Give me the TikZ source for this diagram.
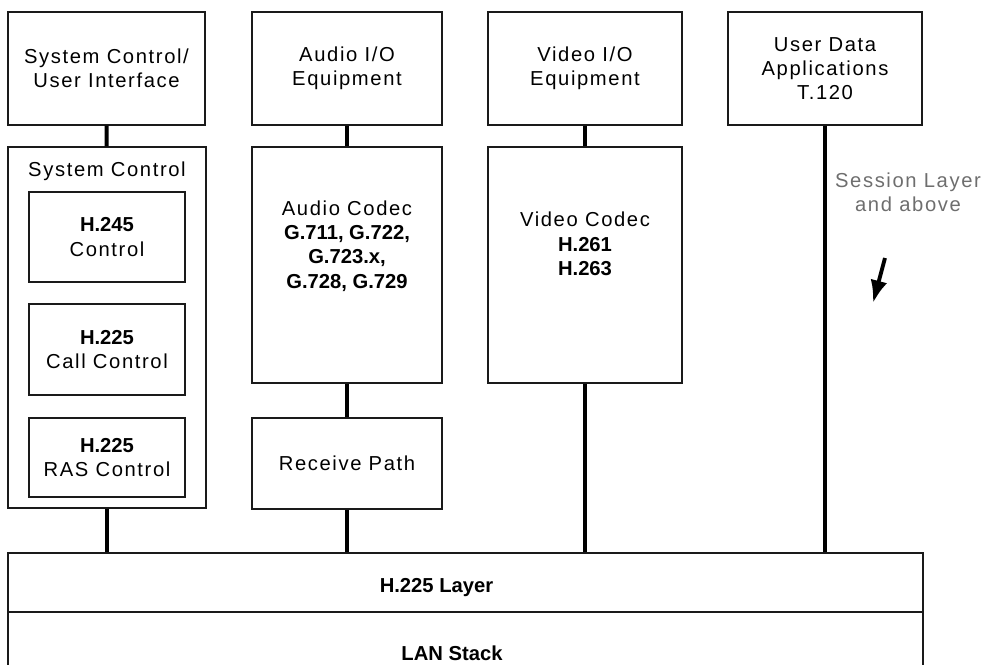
\documentclass[tikz,border=0pt]{standalone}
\usepackage{fontspec}
\setmainfont{Liberation Sans}[LetterSpace=8,BoldFeatures={LetterSpace=0}]
\usepackage{xcolor}
\usepackage{tikz}
\usetikzlibrary{arrows.meta,positioning}
\definecolor{boxline}{HTML}{1A1A1A}
\definecolor{notegray}{HTML}{6E6E6E}

\begin{document}
\begin{tikzpicture}[x=0.02cm,y=-0.02cm,>=Latex]
\tikzstyle{box}=[draw=boxline,line width=0.7pt,align=center,inner sep=0pt,font=\fontsize{11.5}{13.8}\selectfont]
\tikzstyle{lbl}=[align=center,inner sep=0pt,font=\fontsize{11.5}{13.8}\selectfont]
\tikzstyle{link}=[line width=2.3pt]
\useasboundingbox (0,0) rectangle (990,664);
\clip (0,0) rectangle (990,664);
% top row
\node[box,minimum width=3.94cm,minimum height=2.26cm] (sysui) at (106.5,68.5) {System Control/\\User Interface};
\node[box,minimum width=3.8cm,minimum height=2.26cm] (audioio) at (347,68.5) {Audio I/O\\Equipment};
\node[box,minimum width=3.88cm,minimum height=2.26cm] (videoio) at (585,68.5) {Video I/O\\Equipment};
\node[box,minimum width=3.88cm,minimum height=2.26cm] (userdata) at (825,68.5) {User Data\\Applications\\T.120};
% second row
\node[box,minimum width=3.96cm,minimum height=7.22cm,label={[lbl,anchor=north,yshift=-0.3cm]north:System Control}] (sysctl) at (107,327.5) {};
\node[box,minimum width=3.12cm,minimum height=1.8cm] (h245) at (107,237) {\textbf{H.245}\\Control};
\node[box,minimum width=3.12cm,minimum height=1.82cm] (callctl) at (107,349.5) {\textbf{H.225}\\Call Control};
\node[box,minimum width=3.12cm,minimum height=1.58cm] (rasctl) at (107,457.5) {\textbf{H.225}\\RAS Control};
\node[box,minimum width=3.8cm,minimum height=4.72cm,label={[lbl,yshift=0.38cm]center:Audio Codec\\\textbf{G.711, G.722,}\\\textbf{G.723.x,}\\\textbf{G.728, G.729}}] (acodec) at (347,265) {};
\node[box,minimum width=3.8cm,minimum height=1.82cm] (recv) at (347,463.5) {Receive Path};
\node[box,minimum width=3.88cm,minimum height=4.72cm,label={[lbl,yshift=0.42cm]center:Video Codec\\\textbf{H.261}\\\textbf{H.263}}] (vcodec) at (585,265) {};
\node[lbl,text=notegray] (session) at (908,192) {Session Layer\\and above};
% layers
\node[box,minimum width=18.3cm,minimum height=1.18cm,label={[lbl,xshift=-0.58cm,yshift=-0.1cm]center:\textbf{H.225 Layer}}] (layer) at (465.5,582.5) {};
\node[box,minimum width=18.3cm,minimum height=1.8cm,label={[lbl,xshift=-0.27cm,yshift=0.08cm]center:\textbf{LAN Stack}}] (lan) at (465.5,657) {};
% links
\draw[link] (sysui) -- (sysctl);
\draw[link] (audioio) -- (acodec);
\draw[link] (videoio) -- (vcodec);
\draw[link] (acodec) -- (recv);
\draw[link] (sysctl.south) -- (sysctl.south |- layer.north);
\draw[link] (recv.south) -- (recv.south |- layer.north);
\draw[link] (vcodec.south) -- (vcodec.south |- layer.north);
\draw[line width=1.8pt] (userdata.south) -- (userdata.south |- layer.north);
\coordinate (arrtail) at (885,258);
\coordinate (arrhead) at (873,303);
\draw[->,line width=2.2pt] (arrtail) -- (arrhead);
\end{tikzpicture}
\end{document}
